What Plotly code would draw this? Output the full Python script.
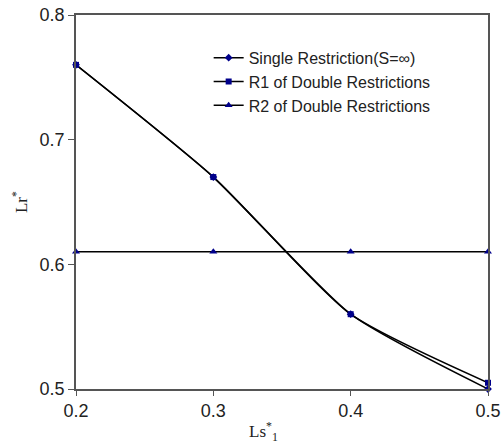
import plotly.graph_objects as go

x_vals = [0.2, 0.3, 0.4, 0.5]
single_vals = [0.76, 0.67, 0.56, 0.50]
r1_vals = [0.76, 0.67, 0.56, 0.505]
r2_vals = [0.61, 0.61, 0.61, 0.61]
names = ["Single Restriction(S=∞)", "R1 of Double Restrictions", "R2 of Double Restrictions"]
x_ticks = [0.2, 0.3, 0.4, 0.5]
y_ticks = [0.5, 0.6, 0.7, 0.8]

navy = "#00008B"
fig = go.Figure()
for name, vals, sym, sz in [(names[0], single_vals, "diamond", 6),
                            (names[1], r1_vals, "square", 6),
                            (names[2], r2_vals, "triangle-up", 7)]:
    fig.add_trace(go.Scatter(
        x=x_vals, y=vals, name=name, mode="lines+markers",
        line=dict(color="#000000", width=1.5, shape="spline", smoothing=0.6),
        marker=dict(symbol=sym, color=navy, size=sz),
        cliponaxis=False,
    ))

fig.add_annotation(text="Ls<sup>*</sup><sub>1</sub>", xref="paper", yref="paper",
                   x=0.455, y=-0.075, xanchor="center", yanchor="top", showarrow=False,
                   font=dict(family="Liberation Serif, Times New Roman", size=17, color="#222222"))

fig.update_layout(
    width=502, height=444,
    margin=dict(l=76, r=14, t=15, b=55, autoexpand=False),
    paper_bgcolor="white", plot_bgcolor="white",
    font=dict(family="Liberation Sans, Arial", color="#222222"),
    legend=dict(x=0.322, y=0.931, xanchor="left", yanchor="top",
                bgcolor="rgba(0,0,0,0)", font=dict(size=16, color="#222222"),
                itemwidth=30),
    xaxis=dict(range=[0.2, 0.5], tickvals=x_ticks, ticktext=[str(v) for v in x_ticks],
               showgrid=False, zeroline=False, showline=True, linecolor="#555555",
               linewidth=1.5, mirror=True, ticks="outside", ticklen=5, automargin=False,
               tickcolor="#555555", tickfont=dict(size=18)),
    yaxis=dict(range=[0.5, 0.8], tickvals=y_ticks, ticktext=[str(v) for v in y_ticks],
               showgrid=False, zeroline=False, showline=True, linecolor="#555555",
               linewidth=1.5, mirror=True, ticks="outside", ticklen=6, automargin=False,
               tickcolor="#555555", tickfont=dict(size=18),
               title=dict(text="Lr<sup>*</sup>",
                          font=dict(family="Liberation Serif, Times New Roman", size=17),
                          standoff=8)),
)
fig.write_html("out.html")
